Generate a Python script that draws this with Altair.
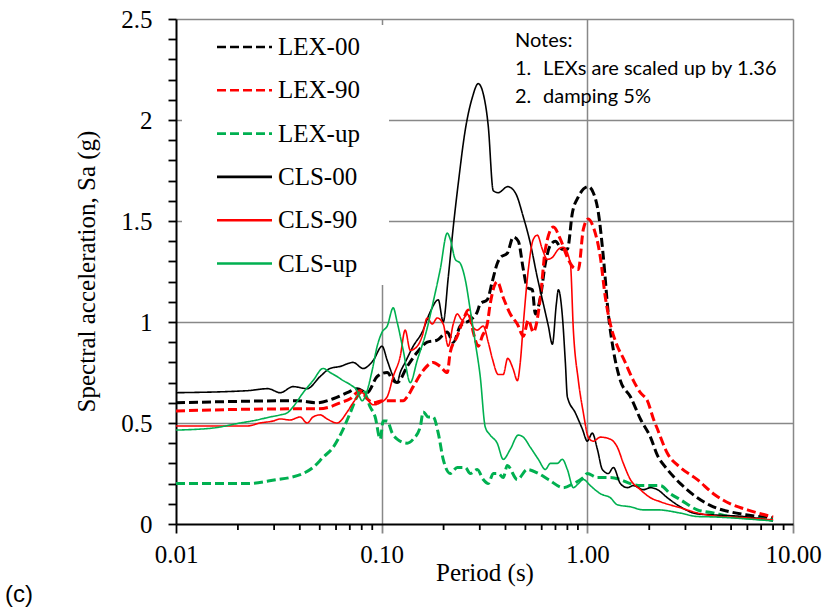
import altair as alt
import pandas as pd

# ---------------- data ----------------
series_names = ["LEX-00", "LEX-90", "LEX-up", "CLS-00", "CLS-90", "CLS-up"]
series_colors = ["#000000", "#FF0000", "#00B050", "#000000", "#FF0000", "#00B050"]
series_dash = [[9, 4], [9, 4], [9, 4], [1, 0], [1, 0], [1, 0]]

lex00_T = [0.01, 0.0388, 0.0486, 0.0581, 0.068, 0.076, 0.085, 0.0951, 0.1064, 0.1138, 0.1189,
           0.1331, 0.1489, 0.1665, 0.1862, 0.2084, 0.2229, 0.2411, 0.2696, 0.2916, 0.3015, 0.3261,
           0.345, 0.3647, 0.378, 0.408, 0.4365, 0.4618, 0.4884, 0.5107, 0.54, 0.5587, 0.5909,
           0.625, 0.661, 0.6991, 0.7561, 0.7996, 0.8457, 0.9045, 1.011, 1.069, 1.132, 1.197,
           1.265, 1.339, 1.448, 1.62, 1.811, 2.027, 2.192, 2.45, 2.835, 3.428, 4.1, 4.963, 6.0, 8.0]
lex00_Sa = [0.60, 0.61, 0.60, 0.62, 0.65, 0.67, 0.65, 0.73, 0.75, 0.71, 0.70,
            0.78, 0.85, 0.90, 0.91, 0.95, 0.90, 0.98, 1.01, 1.05, 1.09, 1.11,
            1.20, 1.29, 1.32, 1.34, 1.42, 1.40, 1.26, 1.17, 1.16, 1.04, 1.12,
            1.29, 1.38, 1.40, 1.36, 1.36, 1.54, 1.62, 1.67, 1.64, 1.54, 1.32,
            1.04, 0.86, 0.71, 0.63, 0.52, 0.43, 0.34, 0.27, 0.20, 0.13, 0.085, 0.06, 0.045, 0.03]

lex90_T = [0.01, 0.0359, 0.0486, 0.0561, 0.0628, 0.0703, 0.0786, 0.085, 0.091, 0.1017, 0.1138,
           0.1273, 0.1331, 0.1423, 0.1592, 0.1781, 0.1926, 0.2084, 0.2155, 0.2331, 0.2493, 0.2636,
           0.2788, 0.2949, 0.3083, 0.3261, 0.3372, 0.3647, 0.3902, 0.422, 0.4566, 0.4884, 0.5165,
           0.5463, 0.5909, 0.625, 0.6836, 0.7393, 0.7996, 0.8552, 0.9045, 0.9566, 1.011, 1.069,
           1.157, 1.224, 1.294, 1.40, 1.497, 1.675, 1.811, 1.96, 2.096, 2.192, 2.45, 2.835, 3.428,
           4.1, 4.963, 6.0, 8.0]
lex90_Sa = [0.56, 0.57, 0.57, 0.58, 0.60, 0.62, 0.66, 0.62, 0.60, 0.61, 0.61,
            0.61, 0.63, 0.68, 0.76, 0.80, 0.78, 0.75, 0.85, 0.93, 1.01, 1.06,
            0.95, 0.88, 0.93, 0.99, 1.09, 1.20, 1.12, 1.04, 0.99, 0.93, 1.01,
            0.95, 1.12, 1.36, 1.47, 1.41, 1.32, 1.27, 1.26, 1.46, 1.51, 1.47,
            1.32, 1.12, 0.99, 0.88, 0.82, 0.71, 0.65, 0.61, 0.52, 0.47, 0.35, 0.28, 0.22,
            0.15, 0.10, 0.07, 0.035]

lexup_T = [0.01, 0.0151, 0.0222, 0.031, 0.0359, 0.0415, 0.0464, 0.0519, 0.0581, 0.065, 0.0703,
           0.076, 0.0813, 0.0879, 0.093, 0.0984, 0.1017, 0.1064, 0.1125, 0.1189, 0.1331, 0.1423,
           0.154, 0.1592, 0.1683, 0.1781, 0.1884, 0.1992, 0.2155, 0.2331, 0.2549, 0.2696, 0.2916,
           0.3118, 0.3298, 0.3488, 0.3688, 0.3902, 0.408, 0.4566, 0.5107, 0.5779, 0.6464, 0.7646,
           0.8552, 0.9566, 1.0, 1.119, 1.294, 1.448, 1.62, 1.811, 2.192, 2.267, 2.535, 2.835,
           3.428, 4.1, 4.963, 6.0, 8.0]
lexup_Sa = [0.20, 0.20, 0.20, 0.22, 0.23, 0.25, 0.28, 0.33, 0.38, 0.47, 0.55,
            0.63, 0.66, 0.58, 0.53, 0.42, 0.51, 0.51, 0.45, 0.42, 0.40, 0.42,
            0.48, 0.555, 0.53, 0.53, 0.45, 0.32, 0.25, 0.28, 0.28, 0.25, 0.27,
            0.22, 0.20, 0.25, 0.25, 0.23, 0.29, 0.22, 0.27, 0.25, 0.22, 0.18,
            0.20, 0.23, 0.25, 0.23, 0.23, 0.22, 0.20, 0.19, 0.19, 0.19, 0.15, 0.12,
            0.07, 0.055, 0.037, 0.03, 0.02]

cls00_T = [0.01, 0.0222, 0.028, 0.0321, 0.0371, 0.0434, 0.0502, 0.0561, 0.0628, 0.0726, 0.0813,
           0.091, 0.1005, 0.1064, 0.1138, 0.1189, 0.1231, 0.1301, 0.1423, 0.1574, 0.1722, 0.1884,
           0.1992, 0.2107, 0.2229, 0.236, 0.2549, 0.2757, 0.2949, 0.3118, 0.3298, 0.3488, 0.3688,
           0.41, 0.4465, 0.4884, 0.5282, 0.5714, 0.6111, 0.6464, 0.676, 0.707, 0.723, 0.7561,
           0.7819, 0.7996, 0.8746, 0.9459, 1.0, 1.057, 1.119, 1.183, 1.265, 1.339, 1.448, 1.566,
           1.675, 1.874, 2.027, 2.192, 2.45, 2.835, 3.428, 4.1, 6.0, 8.0]
cls00_Sa = [0.65, 0.66, 0.67, 0.65, 0.68, 0.67, 0.73, 0.77, 0.78, 0.80, 0.77,
            0.81, 0.88, 0.81, 0.73, 0.70, 0.75, 0.80, 0.88, 0.95, 1.05, 1.11,
            1.00, 1.22, 1.47, 1.69, 1.95, 2.11, 2.18, 2.13, 1.97, 1.65, 1.64,
            1.67, 1.64, 1.52, 1.39, 1.22, 1.09, 0.98, 0.89, 1.09, 1.16, 1.03,
            0.80, 0.63, 0.55, 0.47, 0.41, 0.45, 0.37, 0.27, 0.25, 0.28, 0.20, 0.18,
            0.19, 0.17, 0.18, 0.17, 0.13, 0.085, 0.05, 0.045, 0.035, 0.015]

cls90_T = [0.01, 0.0151, 0.0222, 0.0256, 0.0297, 0.0321, 0.0359, 0.0401, 0.0434, 0.0464, 0.0502,
           0.0543, 0.0607, 0.068, 0.0726, 0.0804, 0.085, 0.091, 0.0984, 0.1064, 0.1138, 0.1231,
           0.1301, 0.1377, 0.1489, 0.1574, 0.1665, 0.1762, 0.1862, 0.1992, 0.2107, 0.2229, 0.2331,
           0.2465, 0.2607, 0.2757, 0.2916, 0.3118, 0.3298, 0.345, 0.369, 0.39, 0.41, 0.435, 0.457,
           0.472, 0.4884, 0.5165, 0.5463, 0.5714, 0.6043, 0.6391, 0.676, 0.723, 0.7646, 0.827,
           0.8552, 0.9045, 0.9566, 1.011, 1.069, 1.157, 1.294, 1.40, 1.497, 1.62, 1.811, 2.027,
           2.267, 2.835, 3.428, 4.1, 6.0, 8.0]
cls90_Sa = [0.485, 0.485, 0.485, 0.50, 0.51, 0.52, 0.515, 0.53, 0.50, 0.53, 0.54,
            0.52, 0.50, 0.555, 0.60, 0.65, 0.62, 0.59, 0.60, 0.63, 0.73, 0.83,
            0.96, 0.86, 0.88, 0.93, 1.02, 0.99, 1.02, 0.99, 0.88, 0.99, 1.04,
            1.01, 1.04, 0.98, 0.96, 0.98, 0.90, 0.82, 0.74, 0.74, 0.82, 0.77, 0.71,
            0.80, 0.99, 1.26, 1.41, 1.43, 1.36, 1.31, 1.32, 1.36, 1.37, 1.29,
            0.96, 0.71, 0.55, 0.43, 0.41, 0.43, 0.42, 0.38, 0.30, 0.22, 0.17, 0.13,
            0.11, 0.08, 0.055, 0.04, 0.03, 0.02]

clsup_T = [0.01, 0.0151, 0.0205, 0.0248, 0.0287, 0.0321, 0.0347, 0.0371, 0.0415, 0.0464, 0.0519,
           0.0561, 0.0607, 0.065, 0.0703, 0.076, 0.0804, 0.085, 0.0899, 0.0951, 0.1005, 0.1064,
           0.1138, 0.1189, 0.1273, 0.1377, 0.1489, 0.1665, 0.1781, 0.1926, 0.2084, 0.2155, 0.228,
           0.2411, 0.2549, 0.2696, 0.2851, 0.3015, 0.3189, 0.3372, 0.3647, 0.3902, 0.422, 0.4618,
           0.4884, 0.5282, 0.5779, 0.625, 0.661, 0.7149, 0.7561, 0.7996, 0.8552, 0.9045, 0.9566,
           1.034, 1.157, 1.294, 1.40, 1.62, 1.874, 2.192, 2.835, 3.428, 4.1, 6.0, 8.0]
clsup_Sa = [0.465, 0.475, 0.50, 0.515, 0.53, 0.54, 0.55, 0.58, 0.65, 0.71, 0.77,
            0.75, 0.73, 0.71, 0.69, 0.66, 0.61, 0.66, 0.76, 0.88, 0.95, 0.98,
            1.07, 1.00, 0.86, 0.70, 0.81, 0.97, 1.10, 1.26, 1.44, 1.41, 1.31,
            1.29, 1.21, 1.06, 0.90, 0.73, 0.48, 0.44, 0.40, 0.32, 0.37, 0.44,
            0.43, 0.38, 0.32, 0.27, 0.30, 0.30, 0.32, 0.27, 0.18, 0.20, 0.22,
            0.19, 0.15, 0.13, 0.095, 0.085, 0.07, 0.07, 0.054, 0.037, 0.035, 0.025, 0.015]

x_major_ticks = [0.01, 0.1, 1, 10]
x_minor_ticks = [0.02, 0.03, 0.04, 0.05, 0.06, 0.07, 0.08, 0.09,
                 0.2, 0.3, 0.4, 0.5, 0.6, 0.7, 0.8, 0.9,
                 2, 3, 4, 5, 6, 7, 8, 9]
y_tick_values = [0, 0.1, 0.2, 0.3, 0.4, 0.5, 0.6, 0.7, 0.8, 0.9, 1.0, 1.1, 1.2, 1.3, 1.4,
                 1.5, 1.6, 1.7, 1.8, 1.9, 2.0, 2.1, 2.2, 2.3, 2.4, 2.5]

notes_lines = ["Notes:", "1.", "LEXs are scaled up by 1.36", "2.", "damping 5%"]

# ---------------- build table ----------------
frames = []
for name, T, Sa in [("LEX-00", lex00_T, lex00_Sa), ("LEX-90", lex90_T, lex90_Sa),
                    ("LEX-up", lexup_T, lexup_Sa), ("CLS-00", cls00_T, cls00_Sa),
                    ("CLS-90", cls90_T, cls90_Sa), ("CLS-up", clsup_T, clsup_Sa)]:
    d = pd.DataFrame({"T": T, "Sa": Sa})
    d["series"] = name
    d["idx"] = range(len(d))
    frames.append(d)
df = pd.DataFrame(pd.concat(frames, ignore_index=True))
minor_df = pd.DataFrame({"T": x_minor_ticks})

W, H = 617, 505
SERIF = "Liberation Serif"
GRID = "#888888"

y_major = "abs(datum.value*2 - round(datum.value*2)) < 0.001"

x_scale = alt.Scale(type="log", domain=[0.01, 10], nice=False)
y_scale = alt.Scale(domain=[0, 2.5], nice=False)

x_axis = alt.Axis(
    values=x_major_ticks,
    format=".2f",
    labelFont=SERIF, labelFontSize=25, labelColor="black", labelPadding=9,
    labelOverlap=False, labelFlush=False,
    ticks=True, tickSize=9, tickOpacity=1,
    tickColor={"condition": {"test": "datum.value > 0.011", "value": GRID}, "value": "black"},
    tickWidth=1.8,
    grid=True, gridColor=GRID, gridWidth=1.5,
    gridOpacity={"condition": {"test": "datum.value > 0.011", "value": 1}, "value": 0},
    domainColor="black", domainWidth=2,
    title="Period (s)", titleFont=SERIF, titleFontSize=25, titleFontWeight="normal",
    titleColor="black", titleBaseline="alphabetic", titleY=56,
)
y_axis = alt.Axis(
    values=y_tick_values,
    labelExpr=f"({y_major}) ? '' + datum.value : ''",
    labelFont=SERIF, labelFontSize=25, labelColor="black", labelPadding=16,
    labelOverlap=False, labelFlush=False,
    ticks=True, tickSize=8, tickColor="black", tickWidth=1.8, tickOpacity=1,
    grid=True, gridColor=GRID, gridWidth=1.5,
    gridOpacity={"condition": {"test": f"({y_major}) && datum.value > 0.001", "value": 1},
                 "value": 0},
    domainColor="black", domainWidth=2,
    title="Spectral acceleration, Sa (g)", titleFont=SERIF, titleFontSize=25,
    titleFontWeight="normal", titleColor="black", titleBaseline="alphabetic",
    titleX=-82, titleY=252,
)

leg = alt.Legend(
    title=None, orient="none", legendX=39.5, legendY=15.5,
    symbolType="stroke", symbolSize=3025, symbolStrokeWidth=2.6,
    clipHeight=25, rowPadding=17.3,
    labelFont=SERIF, labelFontSize=25, labelColor="black", labelOffset=4.5,
    padding=0, labelLimit=300,
)

dummy = pd.DataFrame({"k": [0]})

legend_bg = alt.Chart(dummy).mark_rect(color="white").encode(
    x=alt.value(6), x2=alt.value(213), y=alt.value(6), y2=alt.value(266)
)

def line_layer(names, width):
    return alt.Chart(df).transform_filter(
        alt.FieldOneOfPredicate(field="series", oneOf=names)
    ).mark_line(interpolate="monotone", strokeWidth=width).encode(
        x=alt.X("T:Q", scale=x_scale, axis=x_axis),
        y=alt.Y("Sa:Q", scale=y_scale, axis=y_axis),
        color=alt.Color("series:N", scale=alt.Scale(domain=series_names, range=series_colors),
                        legend=leg),
        strokeDash=alt.StrokeDash("series:N",
                                  scale=alt.Scale(domain=series_names, range=series_dash),
                                  legend=leg),
        order="idx:Q",
    )

lex_lines = line_layer(series_names[:3], 3)
cls_lines = line_layer(series_names[3:], 1.6)

minor_ticks = alt.Chart(minor_df).mark_rule(color="black", strokeWidth=1.8).encode(
    x=alt.X("T:Q", scale=x_scale, axis=x_axis),
    y=alt.value(H), y2=alt.value(H + 6),
)

NOTE_FONT = "Lato"
def note(text, x, y):
    return alt.Chart(dummy).mark_text(
        text=text, align="left", baseline="middle", font=NOTE_FONT, fontSize=20, color="black"
    ).encode(x=alt.value(x), y=alt.value(y))

notes = [
    note(notes_lines[0], 339, 22),
    note(notes_lines[1], 339, 50),
    note(notes_lines[2], 367, 50),
    note(notes_lines[3], 339, 78),
    note(notes_lines[4], 367, 78),
]

panel_label = alt.Chart(dummy).mark_text(
    text="(c)", align="left", baseline="middle", font="Liberation Sans", fontSize=24,
    color="black"
).encode(x=alt.value(-171), y=alt.value(576))

chart = alt.layer(legend_bg, lex_lines, cls_lines, minor_ticks, *notes, panel_label).properties(
    width=W, height=H,
    autosize=alt.AutoSizeParams(type="none"),
    padding={"left": 176, "top": 19, "right": 34, "bottom": 90},
    background="white",
).configure_view(stroke=None)

chart.save("out.html", embed_options={"renderer": "svg", "actions": False})
